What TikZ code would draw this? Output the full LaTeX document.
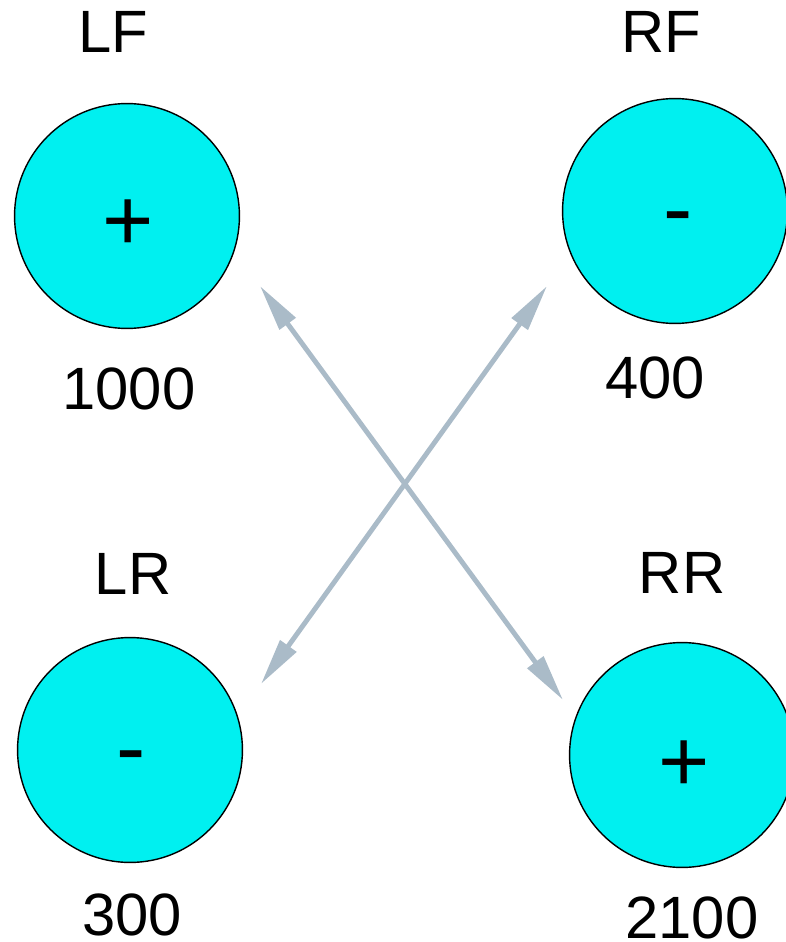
\documentclass[tikz,border=0pt]{standalone}
\usepackage{fontspec}
\setmainfont{Liberation Sans}
\usetikzlibrary{arrows.meta,positioning}
\definecolor{wheelcyan}{RGB}{0,240,240}
\definecolor{linkgray}{RGB}{170,187,200}
\tikzset{
  wheel/.style={circle, draw=black, line width=0.8pt, fill=wheelcyan,
    minimum size=128pt, inner sep=0pt},
  sign/.style={anchor=base, inner sep=0pt, font=\fontsize{50}{50}\selectfont},
  corner/.style={anchor=base, inner sep=0pt, font=\fontsize{34}{34}\selectfont},
  load/.style={corner},
  link/.style={{Triangle[length=26.7pt,width=10.9pt]}-{Triangle[length=26.7pt,width=10.9pt]},
    line width=2.8pt, draw=linkgray},
}

\begin{document}
\begin{tikzpicture}[x=0.02cm, y=-0.02cm]
  \useasboundingbox (0,0) rectangle (785,942);
  % wheels
  \node[wheel] (lf) at (127,216) {};
  \node[wheel] (rf) at (675,211) {};
  \node[wheel] (lr) at (130,750) {};
  \node[wheel] (rr) at (682,755) {};
  \node[sign] (lf-sign) at (128,251) {+};
  \node[sign] (rf-sign) at (678,239) {-};
  \node[sign] (lr-sign) at (131,777) {-};
  \node[sign] (rr-sign) at (684,791) {+};
  % names and values
  \node[corner] (lf-name) at (113,53) {LF};
  \node[corner] (rf-name) at (661,53) {RF};
  \node[corner] (lr-name) at (133,594) {LR};
  \node[corner] (rr-name) at (682,593) {RR};
  \node[load] (lf-load) at (129,409) {1000};
  \node[load] (rf-load) at (655,398) {400};
  \node[load] (lr-load) at (132,935) {300};
  \node[load] (rr-load) at (692,938) {2100};
  % diagonal links
  \coordinate (lf-tip) at (260,286);
  \coordinate (rr-tip) at (563,700);
  \coordinate (rf-tip) at (547,286);
  \coordinate (lr-tip) at (261,684);
  \draw[link] (lf-tip) -- (rr-tip);
  \draw[link] (rf-tip) -- (lr-tip);
\end{tikzpicture}
\end{document}
